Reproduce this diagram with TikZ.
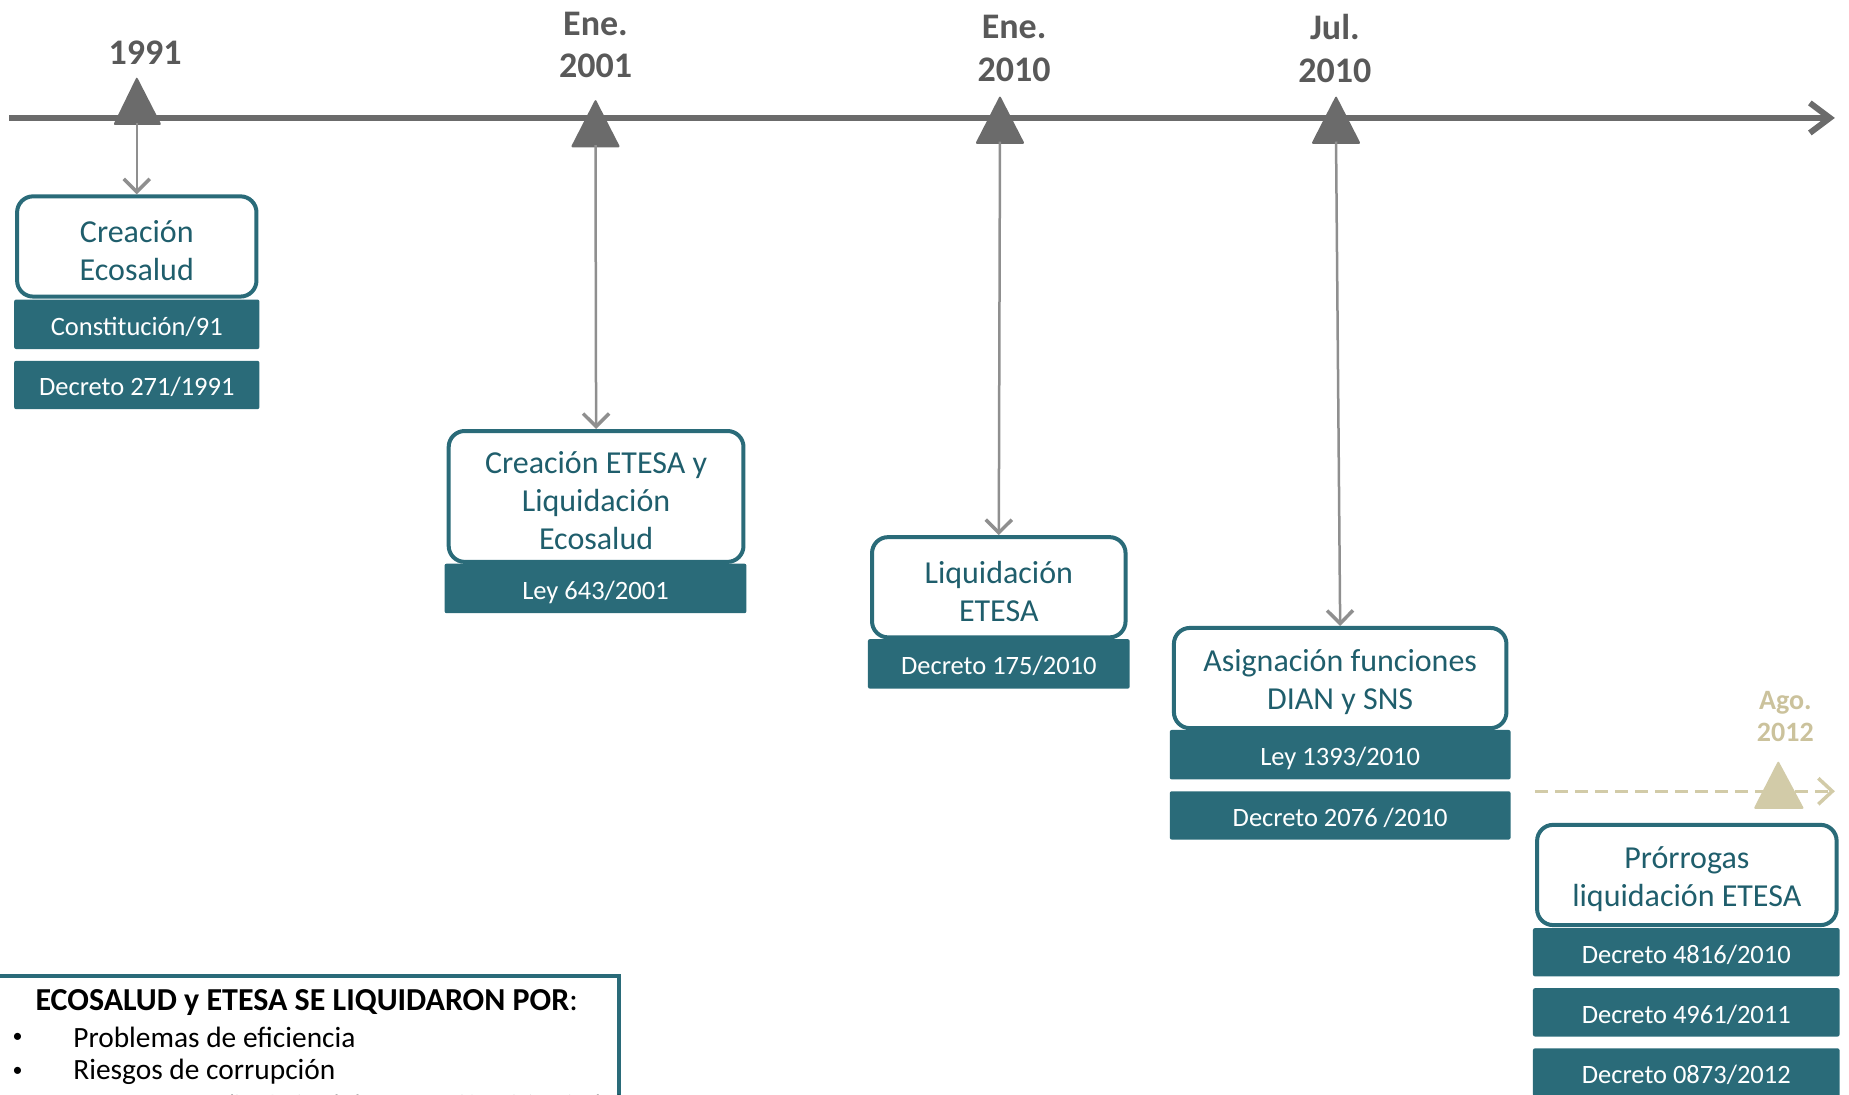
\documentclass[tikz,border=0pt]{standalone}
\usepackage{fontspec}
\setmainfont{Carlito}
\usetikzlibrary{arrows.meta}
\newdimen\uu \uu=1.1792pt
\definecolor{tealf}{HTML}{2A6B79}
\definecolor{tealt}{HTML}{1F5E6C}
\definecolor{axisg}{HTML}{6B6B6B}
\definecolor{yearg}{HTML}{595959}
\definecolor{conng}{HTML}{8F8F8F}
\definecolor{agotan}{HTML}{D2CBA8}
\definecolor{agotxt}{HTML}{CBC29C}
\tikzset{
 wbox/.style={draw=tealf, line width=4pt, rounded corners=16pt, fill=white, inner sep=0pt},
 wlbl/.style={text=tealt, font=\fontsize{32}{37.7}\selectfont, align=center, inner sep=0pt},
 tbox/.style={fill=tealf, rounded corners=2pt, text=white, font=\fontsize{26.5}{30}\selectfont, inner sep=0pt, text height=27pt, text depth=5.3pt},
 yearlbl/.style={font=\bfseries\fontsize{36}{42.5}\selectfont, text=yearg, align=center, inner sep=0pt},
 conn/.style={draw=conng, line width=2.5pt, -{Straight Barb[length=13pt,width=26pt,line width=3.5pt]}},
 tri/.style={fill=axisg, rounded corners=2pt},
 notetxt/.style={font=\fontsize{29.4}{34}\selectfont, text=black, inner sep=0pt},
}
\begin{document}
\begin{tikzpicture}[x=1.1792pt,y=-1.1792pt]
\useasboundingbox (0,0) rectangle (1568,928);
% axis
\coordinate (ax0) at (8,100);
\coordinate (ax1) at (1556,100);
\draw[axisg, line width=6pt, -{Straight Barb[length=20pt,width=30pt]}] (ax0) -- (ax1);
% dashed Ago axis
\coordinate (d0) at (1302,671);
\coordinate (d1) at (1556,671);
\draw[agotan, line width=3.5pt, dash pattern=on 13pt off 7pt, -{Straight Barb[length=14pt,width=26pt]}] (d0) -- (d1);
% triangles
\fill[tri] (96,106) -- (116,65) -- (137,106) -- cycle;
\fill[tri] (484,125) -- (505,84) -- (526,125) -- cycle;
\fill[tri] (827,122) -- (848,81) -- (869,122) -- cycle;
\fill[tri] (1112,122) -- (1133,81) -- (1154,122) -- cycle;
\fill[agotan, rounded corners=2pt] (1487,686) -- (1508,645) -- (1530,686) -- cycle;
\coordinate (t1) at (116,104);
\coordinate (t2) at (505,123);
\coordinate (t3) at (848,120);
\coordinate (t4) at (1133,120);
% year labels
\node[yearlbl] (y1) at (123,45) {1991};
\node[yearlbl] (y2) at (505,38) {Ene.\\2001};
\node[yearlbl] (y3) at (860,41) {Ene.\\2010};
\node[yearlbl] (y4) at (1132,41) {Jul.\\2010};
\node[yearlbl, text=agotxt, font=\bfseries\fontsize{28}{32}\selectfont] (y5) at (1514,607.5) {Ago.\\2012};
% event 1
\node[tbox, minimum width=208\uu, minimum height=42\uu] (r1a) at (116,275) {Constitución/91};
\node[tbox, minimum width=208\uu, minimum height=41\uu] (r1b) at (116,326.5) {Decreto 271/1991};
\node[wbox, minimum width=203\uu, minimum height=85\uu] (b1) at (116,209) {};
\node[wlbl] (b1t) at ([yshift=-3.5\uu]b1.center) {Creación\\Ecosalud};
% event 2
\node[tbox, minimum width=256\uu, minimum height=42\uu] (r2) at (505,499) {Ley 643/2001};
\node[wbox, minimum width=250\uu, minimum height=111\uu] (b2) at (505.5,421) {};
\node[wlbl] (b2t) at ([yshift=-3.5\uu]b2.center) {Creación ETESA y\\Liquidación\\Ecosalud};
% event 3
\node[tbox, minimum width=222\uu, minimum height=42\uu] (r3) at (847,563) {Decreto 175/2010};
\node[wbox, minimum width=215\uu, minimum height=85\uu] (b3) at (847,498) {};
\node[wlbl] (b3t) at ([yshift=-3.5\uu]b3.center) {Liquidación\\ETESA};
% event 4
\node[tbox, minimum width=289\uu, minimum height=42\uu] (r4a) at (1136.5,640) {Ley 1393/2010};
\node[tbox, minimum width=289\uu, minimum height=41\uu] (r4b) at (1136.5,691.5) {Decreto 2076 /2010};
\node[wbox, minimum width=282\uu, minimum height=85\uu] (b4) at (1136.5,575) {};
\node[wlbl] (b4t) at ([yshift=-3.5\uu]b4.center) {Asignación funciones\\DIAN y SNS};
% event 5
\node[tbox, minimum width=260\uu, minimum height=41\uu] (r5a) at (1430,807.5) {Decreto 4816/2010};
\node[tbox, minimum width=260\uu, minimum height=41\uu] (r5b) at (1430,858.5) {Decreto 4961/2011};
\node[tbox, minimum width=260\uu, minimum height=41\uu] (r5c) at (1430,909.5) {Decreto 0873/2012};
\node[wbox, minimum width=254\uu, minimum height=85\uu] (b5) at (1430.5,742) {};
\node[wlbl] (b5t) at ([yshift=-3.5\uu]b5.center) {Prórrogas\\liquidación ETESA};
% connectors
\draw[conn] (t1) -- (b1.north);
\draw[conn] (t2) -- (b2.north);
\draw[conn] (t3) -- (b3.north);
\draw[conn] (t4) -- (b4.north);
% note box
\node[draw=tealf, line width=4pt, minimum width=530\uu, minimum height=150\uu, anchor=north west, inner sep=0pt] (note) at (-7,826) {};
\node[notetxt, anchor=west, font=\fontsize{32}{36}\selectfont] (nt) at (30,850) {\textbf{ECOSALUD y ETESA SE LIQUIDARON POR}:};
\node[notetxt, font=\fontsize{20}{24}\selectfont] (bu1) at (15,880) {•};
\node[notetxt, anchor=west] (n1) at (62,880) {Problemas de eficiencia};
\node[notetxt, font=\fontsize{20}{24}\selectfont] (bu2) at (15,909) {•};
\node[notetxt, anchor=west] (n2) at (62,909) {Riesgos de corrupción};
\node[font=\fontsize{22}{26}\selectfont, anchor=base west, inner sep=0pt] (src) at (10,942) {Fuente: CONVESSS Estudio Técnico de la contratación Ministerio de la};
\end{tikzpicture}
\end{document}
